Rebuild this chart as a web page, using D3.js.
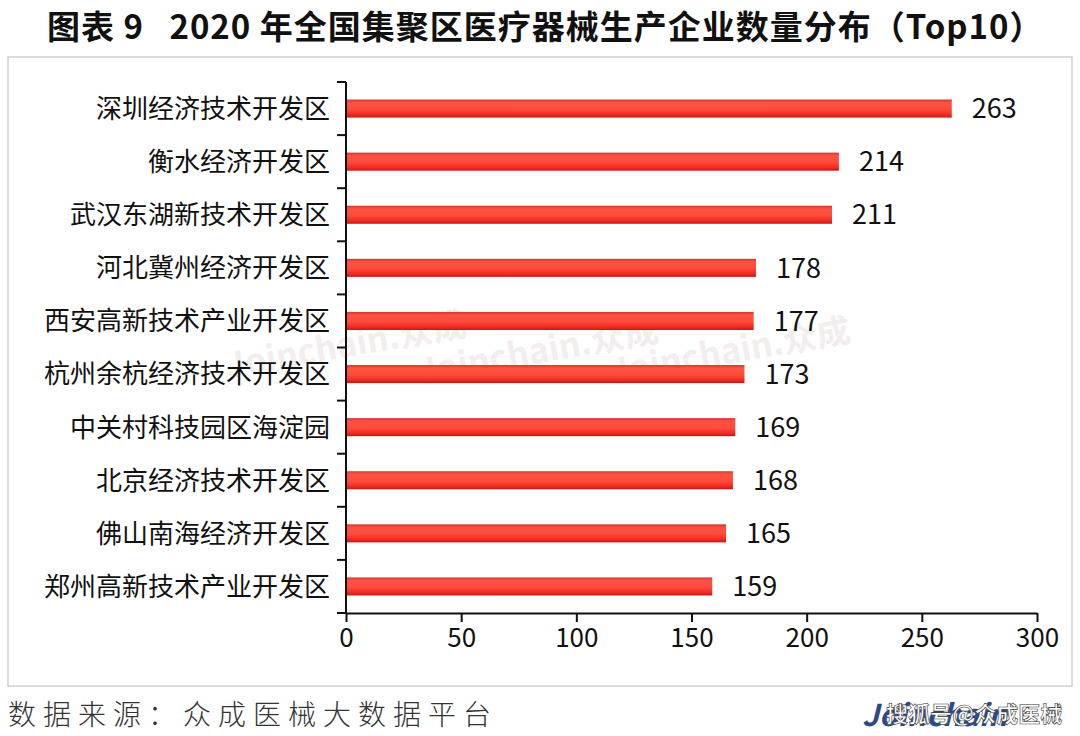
<!DOCTYPE html>
<html lang="zh">
<head>
<meta charset="utf-8">
<title>图表9</title>
<script src="https://d3js.org/d3.v7.min.js"></script>
<style>
  body { margin: 0; background: #fff; }
  text { font-family: "Noto Sans CJK SC", "Noto Sans", sans-serif; }
</style>
</head>
<body>
<div id="chart"></div>
<script>
// data
var parks = ["深圳经济技术开发区", "衡水经济开发区", "武汉东湖新技术开发区", "河北冀州经济开发区",
  "西安高新技术产业开发区", "杭州余杭经济技术开发区", "中关村科技园区海淀园", "北京经济技术开发区",
  "佛山南海经济开发区", "郑州高新技术产业开发区"];
var counts = [263, 214, 211, 178, 177, 173, 169, 168, 165, 159];
var xTicks = [0, 50, 100, 150, 200, 250, 300];

var w = 1080, h = 736;
var mLeft = 346, mRight = 1037, mTop = 82, mBottom = 613;

var svg = d3.select("#chart").append("svg")
  .attr("width", w).attr("height", h);

// bar gradient
var grad = svg.append("defs").append("linearGradient")
  .attr("id", "barGrad").attr("x1", 0).attr("x2", 0).attr("y1", 0).attr("y2", 1);
[["0%", "#d8352a"], ["18%", "#fb5444"], ["55%", "#ff4a3a"], ["85%", "#ee2a20"], ["100%", "#c41812"]]
  .forEach(function(s) { grad.append("stop").attr("offset", s[0]).attr("stop-color", s[1]); });

// title
svg.append("text")
  .attr("x", 47).attr("y", 39)
  .style("white-space", "pre")
  .style("font-size", "33px").style("font-weight", "bold").style("fill", "#111")
  .style("letter-spacing", "1px")
  .text("图表 9   2020 年全国集聚区医疗器械生产企业数量分布（Top10）");

// frame
svg.append("rect")
  .attr("x", 8).attr("y", 57).attr("width", 1064).attr("height", 629)
  .attr("fill", "none").attr("stroke", "#d0d0d0").attr("stroke-width", 1.5);

var xScale = d3.scaleLinear().domain([0, 300]).range([mLeft, mRight]);
var yScale = d3.scaleBand().domain(parks).range([mTop, mBottom]).paddingInner(0.66).paddingOuter(0.33);

// watermarks
[[228, 378], [420, 384], [612, 384]].forEach(function(p) {
  svg.append("text")
    .attr("transform", "translate(" + p[0] + "," + p[1] + ") rotate(-10)")
    .style("font-size", "34px").style("font-weight", "bold")
    .style("fill", "#eee6e8").style("opacity", 0.7)
    .text("Joinchain.众成");
});

// bars
svg.selectAll("rect.bar")
  .data(counts)
  .enter()
  .append("rect")
  .attr("class", "bar")
  .attr("x", xScale(0))
  .attr("y", function(d, i) { return yScale(parks[i]); })
  .attr("width", function(d) { return xScale(d) - xScale(0); })
  .attr("height", yScale.bandwidth())
  .attr("fill", "url(#barGrad)");

// value labels
svg.selectAll("text.val")
  .data(counts)
  .enter()
  .append("text")
  .attr("class", "val")
  .attr("x", function(d) { return xScale(d) + 20; })
  .attr("y", function(d, i) { return yScale(parks[i]) + yScale.bandwidth() / 2; })
  .attr("dy", "0.36em")
  .style("font-size", "27px").style("fill", "#111")
  .text(function(d) { return d; });

// x axis
var xAxis = d3.axisBottom(xScale).tickValues(xTicks).tickSize(9).tickSizeOuter(0);
var gx = svg.append("g")
  .attr("transform", "translate(0," + mBottom + ")")
  .call(xAxis);
gx.select(".domain").attr("stroke", "#111").attr("stroke-width", 2);
gx.selectAll(".tick line").attr("stroke", "#111").attr("stroke-width", 2);
gx.selectAll(".tick text")
  .attr("y", 16)
  .style("font-size", "26px").style("fill", "#111")
  .style("font-family", "'Noto Sans CJK SC', sans-serif");

// y axis: ticks at band boundaries
var boundaries = d3.range(parks.length + 1).map(function(i) { return mTop + i * (mBottom - mTop) / parks.length; });
svg.append("line")
  .attr("x1", mLeft).attr("x2", mLeft).attr("y1", mTop).attr("y2", mBottom)
  .attr("stroke", "#111").attr("stroke-width", 2);
svg.selectAll("line.ytick")
  .data(boundaries)
  .enter()
  .append("line")
  .attr("class", "ytick")
  .attr("x1", mLeft - 9).attr("x2", mLeft)
  .attr("y1", function(d) { return d; }).attr("y2", function(d) { return d; })
  .attr("stroke", "#111").attr("stroke-width", 2);

svg.selectAll("text.cat")
  .data(parks)
  .enter()
  .append("text")
  .attr("class", "cat")
  .attr("x", mLeft - 16)
  .attr("y", function(d) { return yScale(d) + yScale.bandwidth() / 2; })
  .attr("dy", "0.36em")
  .attr("text-anchor", "end")
  .style("font-size", "26px").style("fill", "#111")
  .text(function(d) { return d; });

// footer
svg.append("text")
  .attr("x", 8).attr("y", 725)
  .style("font-size", "28px").style("fill", "#333").style("font-weight", 300)
  .style("letter-spacing", "7px")
  .text("数据来源：众成医械大数据平台");

svg.append("text")
  .attr("x", 862).attr("y", 726)
  .style("font-size", "30px").style("font-weight", "bold").style("font-style", "italic")
  .style("fill", "#2c4a86")
  .text("Joinchain");
svg.append("text")
  .attr("x", 886).attr("y", 722)
  .style("font-size", "22px").style("font-weight", "bold")
  .style("fill", "#fff").style("stroke", "#333").style("stroke-width", 0.6)
  .text("搜狐号@众成医械");
</script>
</body>
</html>
